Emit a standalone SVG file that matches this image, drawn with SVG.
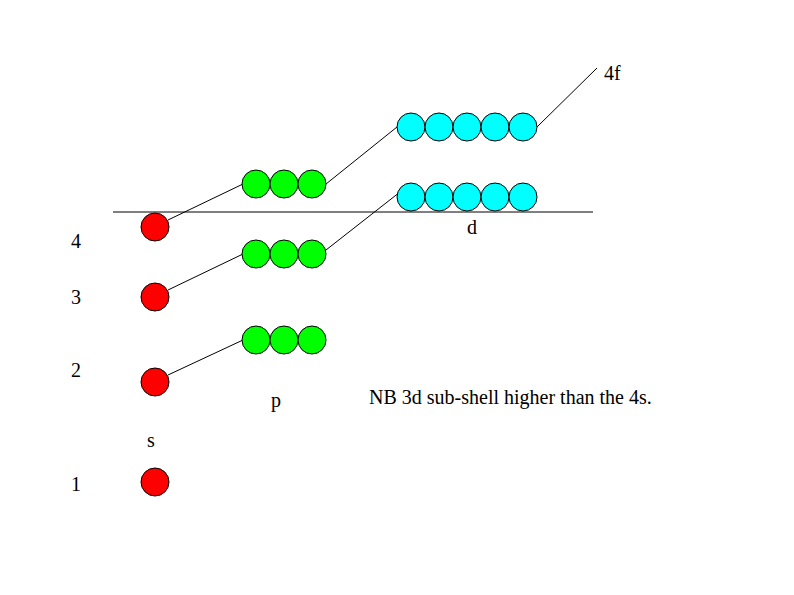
<svg xmlns="http://www.w3.org/2000/svg" width="794" height="595" viewBox="0 0 794 595">
<style>
.s{fill:#ff0000;stroke:#000;stroke-width:1}
.p{fill:#00ff00;stroke:#000;stroke-width:1}
.d{fill:#00ffff;stroke:#000;stroke-width:1}
text{font-family:"Liberation Serif",serif;font-size:20px;fill:#000}
line{stroke:#000;stroke-width:1}
</style>
<rect width="794" height="595" fill="#fff"/>
<g id="connectors">
<line x1="113" y1="212" x2="593" y2="212"/>
<line x1="168" y1="220" x2="243" y2="184"/>
<line x1="326" y1="184" x2="397" y2="127"/>
<line x1="537" y1="127" x2="597" y2="68"/>
<line x1="168" y1="290" x2="243" y2="254"/>
<line x1="326" y1="250" x2="400" y2="192"/>
<line x1="168" y1="375" x2="243" y2="340"/>
</g>
<g id="s-orbitals">
<circle class="s" cx="155" cy="227" r="14"/>
<circle class="s" cx="155" cy="297" r="14"/>
<circle class="s" cx="155" cy="382" r="14"/>
<circle class="s" cx="155" cy="482" r="14"/>
</g>
<g id="p-orbitals">
<circle class="p" cx="256" cy="184" r="14"/><circle class="p" cx="284" cy="184" r="14"/><circle class="p" cx="312" cy="184" r="14"/>
<circle class="p" cx="256" cy="254" r="14"/><circle class="p" cx="284" cy="254" r="14"/><circle class="p" cx="312" cy="254" r="14"/>
<circle class="p" cx="256" cy="340" r="14"/><circle class="p" cx="284" cy="340" r="14"/><circle class="p" cx="312" cy="340" r="14"/>
</g>
<g id="d-orbitals">
<circle class="d" cx="411" cy="127" r="14"/><circle class="d" cx="439" cy="127" r="14"/><circle class="d" cx="467" cy="127" r="14"/><circle class="d" cx="495" cy="127" r="14"/><circle class="d" cx="523" cy="127" r="14"/>
<circle class="d" cx="411" cy="197" r="14"/><circle class="d" cx="439" cy="197" r="14"/><circle class="d" cx="467" cy="197" r="14"/><circle class="d" cx="495" cy="197" r="14"/><circle class="d" cx="523" cy="197" r="14"/>
</g>
<g id="labels">
<text x="71" y="248">4</text>
<text x="71" y="304">3</text>
<text x="71" y="377">2</text>
<text x="71" y="491">1</text>
<text x="147" y="447">s</text>
<text x="271" y="407">p</text>
<text x="467" y="234">d</text>
<text x="604" y="80">4f</text>
<text x="369" y="404">NB 3d sub-shell higher than the 4s.</text>
</g>
</svg>
